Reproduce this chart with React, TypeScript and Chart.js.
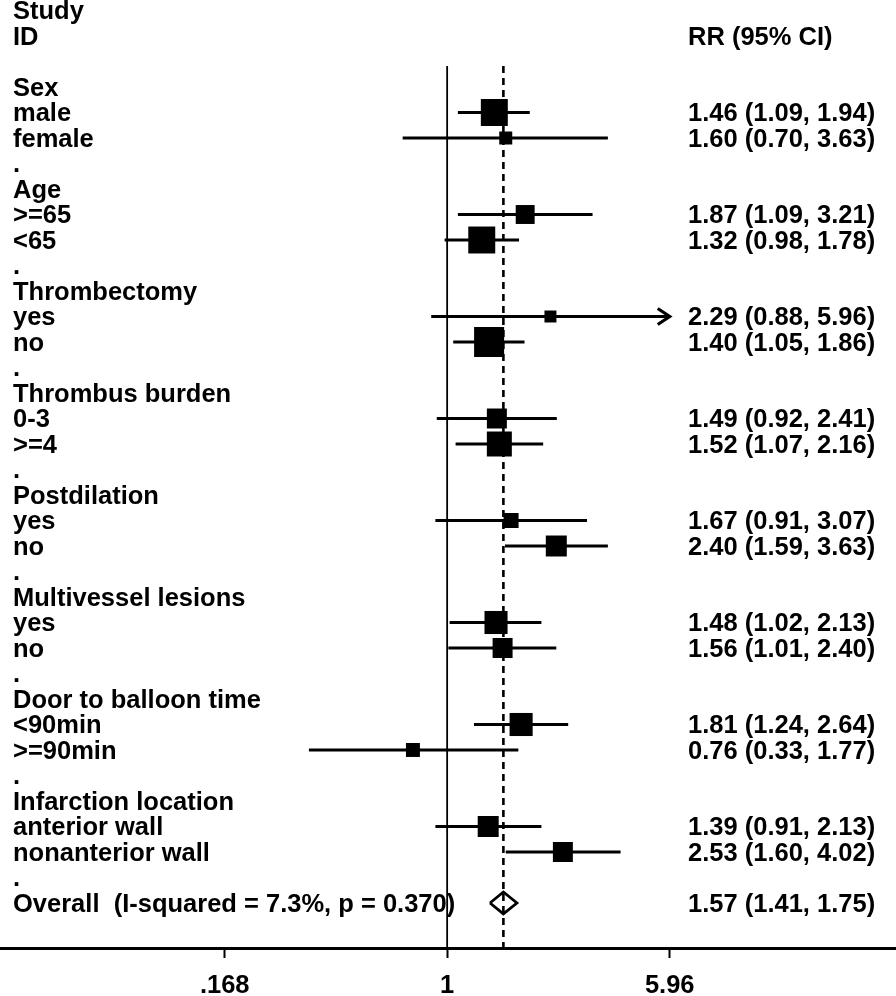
import React, { useEffect, useRef } from "react";
import { Chart, registerables } from "chart.js";

Chart.register(...registerables);

// ---------- data ----------
const headerLeft = ["Study", "ID"];
const headerRight = "RR (95% CI)";
const rowLabels = [
  "Sex", "male", "female", ".",
  "Age", ">=65", "<65", ".",
  "Thrombectomy", "yes", "no", ".",
  "Thrombus burden", "0-3", ">=4", ".",
  "Postdilation", "yes", "no", ".",
  "Multivessel lesions", "yes", "no", ".",
  "Door to balloon time", "<90min", ">=90min", ".",
  "Infarction location", "anterior wall", "nonanterior wall", ".",
  "Overall  (I-squared = 7.3%, p = 0.370)",
];
const estRows = [1, 2, 5, 6, 9, 10, 13, 14, 17, 18, 21, 22, 25, 26, 29, 30];
const rr = [1.46, 1.6, 1.87, 1.32, 2.29, 1.4, 1.49, 1.52, 1.67, 2.4, 1.48, 1.56, 1.81, 0.76, 1.39, 2.53];
const lo = [1.09, 0.7, 1.09, 0.98, 0.88, 1.05, 0.92, 1.07, 0.91, 1.59, 1.02, 1.01, 1.24, 0.33, 0.91, 1.6];
const hi = [1.94, 3.63, 3.21, 1.78, 5.96, 1.86, 2.41, 2.16, 3.07, 3.63, 2.13, 2.4, 2.64, 1.77, 2.13, 4.02];
const weights = [71, 16.5, 35, 71, 14, 88, 39, 61, 22, 43, 52, 39, 52, 19, 43, 39];
const overallRow = 32;
const overallRR = 1.57;
const overallLo = 1.41;
const overallHi = 1.75;
const xTicks = [0.168, 1, 5.96];
const xTickLabels = [".168", "1", "5.96"];

// ---------- layout / style ----------
const W = 896;
const H = 996;
const AXIS_H = 48;
const FONT_FAMILY = "'Liberation Sans', Arial, sans-serif";
const FONT_SIZE = 25.5;
const FONT_WEIGHT = "bold";
const LEFT_X = 13;
const RIGHT_X = 688;
const TEXT_DY = 1.5;
const Y_MIN = -3.412;
const Y_MAX = 33.765;
const X_MIN = 0.0277;
const X_MAX = 36.6;
const LINE_TOP = -0.82;
const BOX_K = 3.2;
const DIAMOND_H = 0.43;

const fmt = (v: number) => v.toFixed(2);

const textPlugin = {
  id: "forestText",
  afterDatasetsDraw(chart: any) {
    const { ctx } = chart;
    const x = chart.scales.x;
    const y = chart.scales.y;
    const py = (r: number) => y.getPixelForValue(r) + TEXT_DY;
    ctx.save();
    ctx.fillStyle = "#000";
    ctx.font = `${FONT_WEIGHT} ${FONT_SIZE}px ${FONT_FAMILY}`;
    ctx.textBaseline = "middle";
    ctx.textAlign = "left";
    ctx.fillText(headerLeft[0], LEFT_X, py(-3));
    ctx.fillText(headerLeft[1], LEFT_X, py(-2));
    ctx.fillText(headerRight, RIGHT_X, py(-2));
    rowLabels.forEach((t, i) => ctx.fillText(t, LEFT_X, py(i)));
    estRows.forEach((r, i) => {
      ctx.fillText(`${fmt(rr[i])} (${fmt(lo[i])}, ${fmt(hi[i])})`, RIGHT_X, py(r));
    });
    ctx.fillText(`${fmt(overallRR)} (${fmt(overallLo)}, ${fmt(overallHi)})`, RIGHT_X, py(overallRow));

    // arrows for CIs reaching the plotted range limit
    const limit = xTicks[xTicks.length - 1];
    ctx.strokeStyle = "#000";
    ctx.lineWidth = 3.2;
    ctx.lineJoin = "miter";
    estRows.forEach((r, i) => {
      if (hi[i] >= limit) {
        const px = x.getPixelForValue(hi[i]);
        const cy = y.getPixelForValue(r);
        ctx.beginPath();
        ctx.moveTo(px - 12, cy - 8);
        ctx.lineTo(px, cy);
        ctx.lineTo(px - 12, cy + 8);
        ctx.stroke();
      }
    });
    ctx.restore();
  },
};

export default function App() {
  const ref = useRef<HTMLCanvasElement | null>(null);

  useEffect(() => {
    if (!ref.current) return;
    const datasets: any[] = [];

    // boxes
    datasets.push({
      type: "scatter",
      data: estRows.map((r, i) => ({ x: rr[i], y: r })),
      pointStyle: "rect",
      pointRadius: weights.map((w) => (BOX_K * Math.sqrt(w)) / Math.SQRT2),
      pointHoverRadius: weights.map((w) => (BOX_K * Math.sqrt(w)) / Math.SQRT2),
      backgroundColor: "#000",
      borderColor: "#000",
      borderWidth: 0,
      order: 0,
    });

    // CI lines
    estRows.forEach((r, i) => {
      datasets.push({
        type: "line",
        data: [
          { x: lo[i], y: r },
          { x: hi[i], y: r },
        ],
        borderColor: "#000",
        borderWidth: 3,
        pointRadius: 0,
        fill: false,
        order: 1,
      });
    });

    // overall diamond
    datasets.push({
      type: "line",
      data: [
        { x: overallLo, y: overallRow },
        { x: overallRR, y: overallRow - DIAMOND_H },
        { x: overallHi, y: overallRow },
        { x: overallRR, y: overallRow + DIAMOND_H },
        { x: overallLo, y: overallRow },
      ],
      borderColor: "#000",
      borderWidth: 2.8,
      pointRadius: 0,
      fill: false,
      tension: 0,
      order: 1,
    });

    // null line at 1
    datasets.push({
      type: "line",
      data: [
        { x: 1, y: LINE_TOP },
        { x: 1, y: Y_MAX },
      ],
      borderColor: "#000",
      borderWidth: 1.8,
      pointRadius: 0,
      fill: false,
      order: 2,
    });

    // overall estimate dashed line
    datasets.push({
      type: "line",
      data: [
        { x: overallRR, y: LINE_TOP },
        { x: overallRR, y: Y_MAX },
      ],
      borderColor: "#000",
      borderWidth: 2.6,
      borderDash: [7, 5],
      pointRadius: 0,
      fill: false,
      order: 2,
    });

    const chart = new Chart(ref.current, {
      type: "scatter",
      data: { datasets },
      plugins: [textPlugin],
      options: {
        animation: false,
        responsive: false,
        maintainAspectRatio: false,
        events: [],
        layout: { padding: 0, autoPadding: false },
        plugins: { legend: { display: false }, tooltip: { enabled: false } },
        scales: {
          x: {
            type: "logarithmic",
            position: "bottom",
            min: X_MIN,
            max: X_MAX,
            afterBuildTicks: (axis: any) => {
              axis.ticks = xTicks.map((v) => ({ value: v }));
            },
            afterFit: (axis: any) => {
              axis.height = AXIS_H;
            },
            border: { display: true, color: "#000", width: 3 },
            grid: {
              display: true,
              drawOnChartArea: false,
              drawTicks: true,
              tickLength: 10,
              tickWidth: 2,
              color: "#000",
            },
            ticks: {
              autoSkip: false,
              maxRotation: 0,
              minRotation: 0,
              padding: 15,
              color: "#000",
              font: { family: FONT_FAMILY, size: FONT_SIZE, weight: FONT_WEIGHT, lineHeight: 1 },
              callback: (_v: any, i: number) => xTickLabels[i],
            },
          },
          y: {
            type: "linear",
            display: false,
            reverse: true,
            min: Y_MIN,
            max: Y_MAX,
          },
        },
      } as any,
    });
    return () => chart.destroy();
  }, []);

  return (
    <div style={{ position: "absolute", left: 0, top: 0, width: W, height: H, background: "#fff" }}>
      <canvas ref={ref} width={W} height={H} style={{ width: W, height: H, display: "block" }} />
    </div>
  );
}
